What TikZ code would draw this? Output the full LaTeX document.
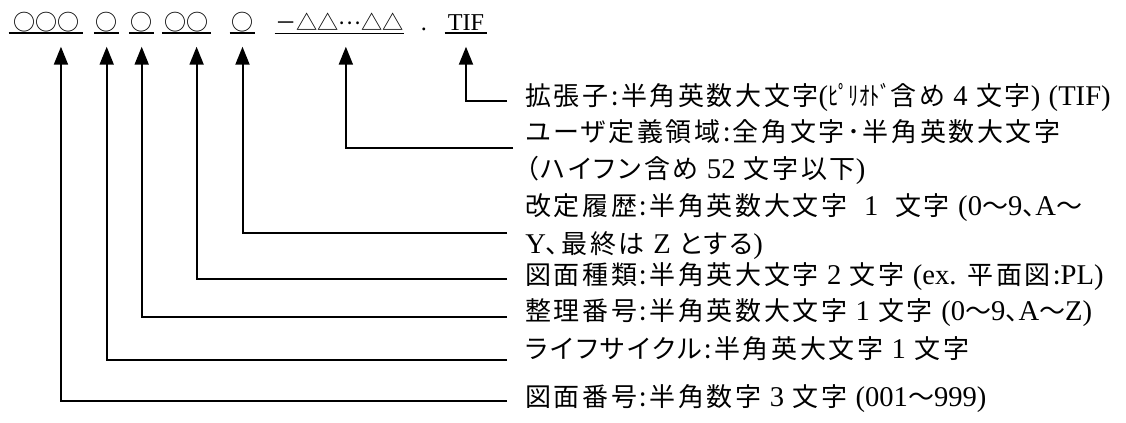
\documentclass[tikz,border=0pt]{standalone}
\usepackage{fontspec}
\usepackage{graphicx}
\setmainfont{Liberation Serif}[Scale=1.1]
\newfontfamily\jpfont{Noto Sans CJK JP}
\newfontfamily\jplab{Noto Sans CJK JP}[LetterSpace=10,RawFeature=+palt]
\usetikzlibrary{arrows.meta,calc}
\newcommand\la[1]{{\rmfamily #1}}
\newcommand\hk[1]{\scalebox{0.8}[1]{\jpfont #1}}
\begin{document}
\begin{tikzpicture}[x=0.5pt,y=-0.5pt,
  conn/.style={line width=1pt,-{Triangle[width=7pt,length=9pt]},shorten >=7.85pt},
  lbl/.style={font=\jplab\fontsize{13pt}{15pt}\selectfont,inner sep=0pt,anchor=base west},
  grp/.style={font=\jpfont\fontsize{11pt}{13pt}\selectfont,inner sep=0pt,anchor=base},
  ulthick/.style={line width=1pt},
  ulthin/.style={line width=0.5pt}]
\useasboundingbox (0,0) rectangle (1126,423);
% file-name pattern
\node[grp,minimum width=37pt] (g1) at (46,31) {○○○};
\node[grp,minimum width=12.35pt] (g2) at (106.7,31) {○};
\node[grp,minimum width=12.35pt] (g3) at (141.7,31) {○};
\node[grp,minimum width=24.35pt] (g4) at (186.7,31) {○○};
\node[grp,minimum width=12.5pt] (g5) at (242.5,31) {○};
\node[grp,minimum width=64.5pt,font=\jpfont\fontsize{10.6pt}{13pt}\selectfont] (g6) at (339.5,31) {－△△\raisebox{0.33em}{…}△△};
\node[grp] (gd) at (424,31) {\la{.}};
\node[grp,minimum width=21pt,font=\rmfamily\fontsize{11pt}{13pt}\selectfont] (g7) at (466,31) {TIF};
\foreach \g in {g1,g2,g3,g4,g5,g7}
  \draw[ulthick] ([yshift=-1.15pt]\g.base west) -- ([yshift=-1.15pt]\g.base east);
\draw[ulthin] ([yshift=-1.15pt]g6.base west) -- ([yshift=-1.15pt]g6.base east);
% labels
\node[lbl] (L1) at (525,105) {拡張子:半角英数大文字\la{(}\hk{ﾋﾟﾘｵﾄﾞ}含め \la{4} 文字\la{)} \la{(TIF)}};
\node[lbl] (L2a) at (525,141) {ユーザ定義領域:全角文字･半角英数大文字};
\node[lbl] (L2b) at (525,178) {（ハイフン含め \la{52} 文字以下\la{)}};
\node[lbl] (L3a) at (525,215) {改定履歴:半角英数大文字\ \ \la{1}\ \ 文字 \la{(0}〜\la{9}、\la{A}〜};
\node[lbl] (L3b) at (525,253) {\la{Y}、最終は \la{Z} とする\la{)}};
\node[lbl] (L4) at (525,284) {図面種類:半角英大文字 \la{2} 文字 \la{(ex.} 平面図:\la{PL)}};
\node[lbl] (L5) at (525,320) {整理番号:半角英数大文字 \la{1} 文字 \la{(0}〜\la{9}、\la{A}〜\la{Z)}};
\node[lbl] (L6) at (525,358) {ライフサイクル:半角英大文字 \la{1} 文字};
\node[lbl] (L7) at (525,406) {図面番号:半角数字 \la{3} 文字 \la{(001}〜\la{999)}};
% connectors
\draw[conn] ([shift={(-18,-4)}]L1.base west) -| (g7.base);
\draw[conn] ([shift={(-12,7)}]L2a.base west) -| ($(g6.base west)!0.549!(g6.base east)$);
\draw[conn] ([shift={(-18,18)}]L3a.base west) -| (g5.base);
\draw[conn] ([shift={(-18,-5)}]L4.base west) -| ($(g4.base west)!0.7!(g4.base east)$);
\draw[conn] ([shift={(-18,-3)}]L5.base west) -| (g3.base);
\draw[conn] ([shift={(-18,2)}]L6.base west) -| (g2.base);
\draw[conn] ([shift={(-18,-5)}]L7.base west) -| ($(g1.base west)!0.7!(g1.base east)$);
\end{tikzpicture}
\end{document}
